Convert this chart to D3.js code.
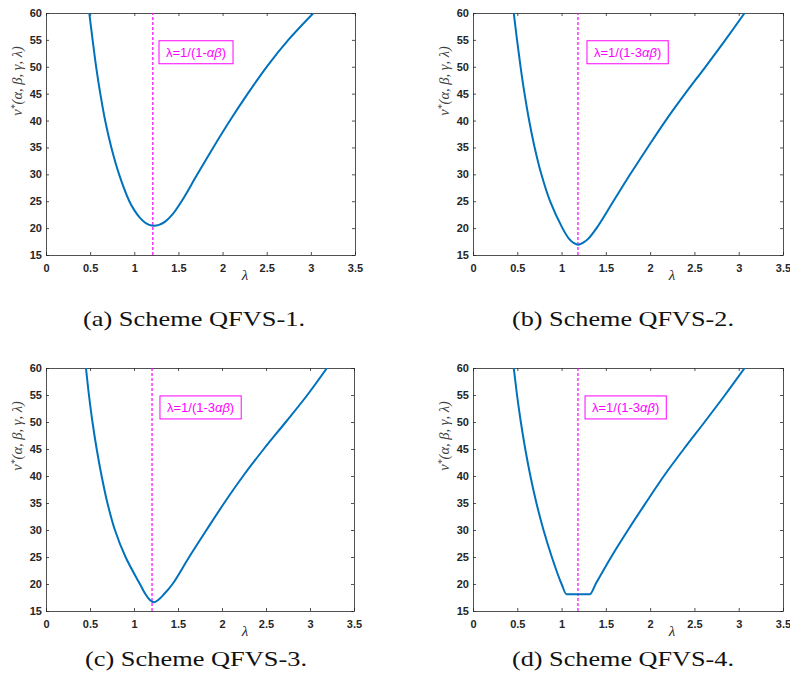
<!DOCTYPE html>
<html>
<head>
<meta charset="utf-8">
<title>v* versus lambda</title>
<script src="https://cdn.jsdelivr.net/npm/d3@7"></script>
<style>
  body { margin: 0; background: #fff; }
  .axis path, .axis line { stroke: #262626; stroke-width: 0.8; }
</style>
</head>
<body>
<svg id="chart" width="790" height="683"></svg>
<script>
// tick labels
const xTicks = [0, 0.5, 1, 1.5, 2, 2.5, 3, 3.5];
const yTicks = [15, 20, 25, 30, 35, 40, 45, 50, 55, 60];

// curves, one pair of arrays per scheme
const lamA = [0.49, 0.528, 0.568, 0.615, 0.67, 0.74, 0.828, 0.944, 1.0, 1.065, 1.12, 1.17, 1.22, 1.28, 1.35, 1.43, 1.536, 1.714, 1.895, 2.084, 2.285, 2.5, 2.745, 3.03];
const vA   = [60, 55, 50, 45, 40, 35, 30, 25, 23.35, 21.9, 21.05, 20.6, 20.45, 20.6, 21.2, 22.5, 25, 30, 35, 40, 45, 50, 55, 60];

const lamB = [0.46, 0.497, 0.537, 0.582, 0.634, 0.696, 0.772, 0.87, 1.01, 1.085, 1.14, 1.188, 1.24, 1.30, 1.395, 1.585, 1.775, 1.972, 2.175, 2.395, 2.625, 2.85, 3.067];
const vB   = [60, 55, 50, 45, 40, 35, 30, 25, 20, 18, 17.2, 16.9, 17.25, 18, 20, 25, 30, 35, 40, 45, 50, 55, 60];

const lamC = [0.454, 0.488, 0.528, 0.576, 0.632, 0.698, 0.783, 0.904, 1.067, 1.135, 1.18, 1.226, 1.275, 1.335, 1.438, 1.627, 1.824, 2.025, 2.24, 2.475, 2.725, 2.97, 3.193];
const vC   = [60, 55, 50, 45, 40, 35, 30, 25, 20, 18, 17.05, 16.6, 17.05, 18, 20, 25, 30, 35, 40, 45, 50, 55, 60];

const lamD = [0.46, 0.497, 0.54, 0.59, 0.648, 0.716, 0.796, 0.89, 1.0, 1.056, 1.32, 1.385, 1.56, 1.75, 1.95, 2.155, 2.38, 2.615, 2.845, 3.067];
const vD   = [60, 55, 50, 45, 40, 35, 30, 25, 20, 18.1, 18.1, 20, 25, 30, 35, 40, 45, 50, 55, 60];

// lambda = 1/(1 - k*alpha*beta) marker
const critLam = [1.21, 1.185, 1.205, 1.185];
const annotPrefix = ["λ=1/(1-", "λ=1/(1-3", "λ=1/(1-3", "λ=1/(1-3"];
const captions = ["(a) Scheme QFVS-1.", "(b) Scheme QFVS-2.", "(c) Scheme QFVS-3.", "(d) Scheme QFVS-4."];

// where the label box sits, in data units (left edge, vertical centre)
const annotAt = [[1.28, 52.7], [1.287, 52.7], [1.295, 52.7], [1.265, 52.7]];

const panels = [
  { lam: lamA, v: vA, left: 46,  top: 13,  w: 309, h: 242, capX: 83,  capY: 326, curve: d3.curveCatmullRom.alpha(0.5) },
  { lam: lamB, v: vB, left: 473, top: 13,  w: 310, h: 242, capX: 512, capY: 326, curve: d3.curveCatmullRom.alpha(0.5) },
  { lam: lamC, v: vC, left: 46,  top: 368, w: 308, h: 243, capX: 85,  capY: 666, curve: d3.curveCatmullRom.alpha(0.5) },
  { lam: lamD, v: vD, left: 473, top: 368, w: 310, h: 243, capX: 512, capY: 666, curve: d3.curveMonotoneX }
];

const svg = d3.select("#chart");
svg.append("rect").attr("width", 790).attr("height", 683).attr("fill", "#fff");

panels.forEach(function(p, i) {
  const x = d3.scaleLinear().domain([0, 3.5]).range([0, p.w]);
  const y = d3.scaleLinear().domain([15, 60]).range([p.h, 0]);
  const g = svg.append("g").attr("transform", "translate(" + p.left + "," + p.top + ")");

  g.append("clipPath").attr("id", "clip" + i)
    .append("rect").attr("width", p.w).attr("height", p.h);

  // box with inward ticks on all four sides
  g.append("g").attr("class", "axis").attr("transform", "translate(0," + p.h + ")")
    .call(d3.axisBottom(x).tickValues(xTicks).tickSizeInner(-3).tickSizeOuter(0)
      .tickPadding(9).tickFormat(d3.format("~g")));
  g.append("g").attr("class", "axis")
    .call(d3.axisTop(x).tickValues(xTicks).tickSizeInner(-3).tickSizeOuter(0).tickFormat(""));
  g.append("g").attr("class", "axis")
    .call(d3.axisLeft(y).tickValues(yTicks).tickSizeInner(-3).tickSizeOuter(0).tickPadding(4));
  g.append("g").attr("class", "axis").attr("transform", "translate(" + p.w + ",0)")
    .call(d3.axisRight(y).tickValues(yTicks).tickSizeInner(-3).tickSizeOuter(0).tickFormat(""));
  g.selectAll(".axis .tick text").filter(function() { return this.textContent === ""; }).remove();
  g.selectAll(".axis .tick text")
    .attr("font-family", "'Liberation Sans', Arial, sans-serif")
    .attr("font-weight", "bold").attr("font-size", 11).attr("fill", "#262626");

  // dashed marker line
  g.append("line")
    .attr("x1", x(critLam[i])).attr("x2", x(critLam[i]))
    .attr("y1", y(15)).attr("y2", y(60))
    .attr("stroke", "#ff00ff").attr("stroke-width", 1.2).attr("stroke-dasharray", "3,2");

  // curve
  const pts = p.lam.map(function(l, k) { return [l, p.v[k]]; });
  g.append("path").datum(pts)
    .attr("clip-path", "url(#clip" + i + ")")
    .attr("fill", "none").attr("stroke", "#0072bd").attr("stroke-width", 2)
    .attr("d", d3.line().x(function(d) { return x(d[0]); }).y(function(d) { return y(d[1]); })
      .curve(p.curve));

  // annotation box
  const ax = x(annotAt[i][0]), ay = y(annotAt[i][1]);
  const t = g.append("text")
    .attr("x", ax + 7).attr("y", ay).attr("dy", "0.36em")
    .attr("font-family", "'Liberation Sans', Arial, sans-serif").attr("font-size", 13)
    .attr("fill", "#ff00ff");
  t.append("tspan").text(annotPrefix[i]);
  t.append("tspan").attr("font-style", "italic").text("αβ");
  t.append("tspan").text(")");
  const bb = t.node().getBBox();
  g.append("rect")
    .attr("x", ax).attr("y", ay - 11.5)
    .attr("width", bb.width + 14).attr("height", 23)
    .attr("fill", "none").attr("stroke", "#ff00ff").attr("stroke-width", 1);

  // axis labels
  g.append("text")
    .attr("x", 199).attr("y", p.h + 25)
    .attr("text-anchor", "middle")
    .attr("font-family", "'Liberation Serif', 'Times New Roman', serif")
    .attr("font-style", "italic").attr("font-size", 15).attr("fill", "#262626")
    .text("λ");

  const yl = g.append("text")
    .attr("transform", "translate(-24," + 68 + ") rotate(-90)")
    .attr("text-anchor", "middle")
    .attr("font-family", "'Liberation Serif', 'Times New Roman', serif")
    .attr("font-style", "italic").attr("font-size", 14.5).attr("fill", "#404040");
  yl.append("tspan").text("v");
  yl.append("tspan").attr("font-size", 10).attr("dy", "-0.45em").text("*");
  yl.append("tspan").attr("dy", "0.32em").text("(α, β, γ, λ)");

  // sub-caption
  svg.append("text")
    .attr("x", p.capX).attr("y", p.capY)
    .attr("font-family", "'Liberation Serif', 'Times New Roman', serif")
    .attr("font-size", 22).attr("fill", "#111")
    .attr("textLength", 222).attr("lengthAdjust", "spacingAndGlyphs")
    .text(captions[i]);
});
</script>
</body>
</html>
